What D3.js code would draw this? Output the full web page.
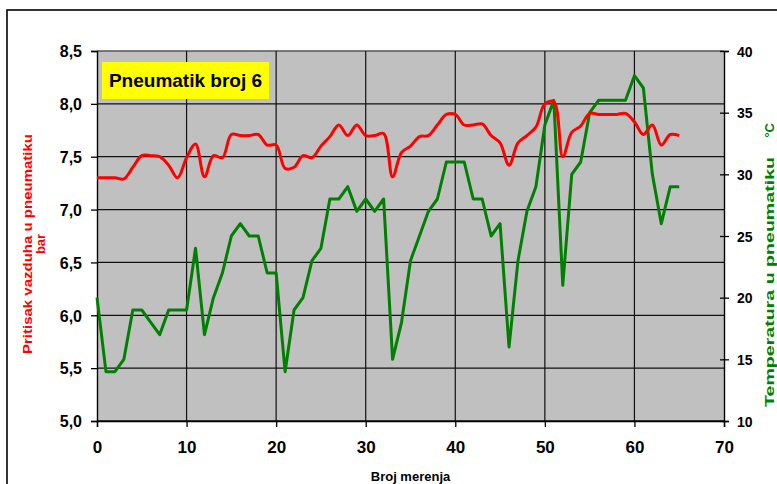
<!DOCTYPE html>
<html>
<head>
<meta charset="utf-8">
<script src="https://cdn.jsdelivr.net/npm/d3@7"></script>
<style>
  body { margin: 0; background: #fff; }
  svg { display: block; font-family: "Liberation Sans", Arial, sans-serif; }
</style>
</head>
<body>
<div id="chart"></div>
<script>
// measurement index 0..65
var pressure = [7.3, 7.3, 7.3, 7.29, 7.4, 7.51, 7.51, 7.5, 7.42, 7.3,
  7.49, 7.62, 7.31, 7.51, 7.49, 7.71, 7.7, 7.7, 7.71, 7.61,
  7.61, 7.39, 7.4, 7.51, 7.49, 7.6, 7.69, 7.8, 7.7, 7.8,
  7.7, 7.7, 7.72, 7.31, 7.54, 7.6, 7.69, 7.7, 7.8, 7.9,
  7.9, 7.8, 7.8, 7.81, 7.7, 7.63, 7.42, 7.63, 7.7, 7.78,
  8.0, 8.02, 7.5, 7.73, 7.79, 7.91, 7.9, 7.9, 7.9, 7.91,
  7.83, 7.71, 7.8, 7.61, 7.71, 7.7];
var temperature = [20, 14, 14, 15, 19, 19, 18, 17, 19, 19,
  19, 24, 17, 20, 22, 25, 26, 25, 25, 22,
  22, 14, 19, 20, 23, 24, 28, 28, 29, 27,
  28, 27, 28, 15, 18, 23, 25, 27, 28, 31,
  31, 31, 28, 28, 25, 26, 16, 23, 27, 29,
  34, 36, 21, 30, 31, 35, 36, 36, 36, 36,
  38, 37, 30, 26, 29, 29];
var xTicks = [0, 10, 20, 30, 40, 50, 60, 70];
var leftTicks = [5.0, 5.5, 6.0, 6.5, 7.0, 7.5, 8.0, 8.5];
var rightTicks = [10, 15, 20, 25, 30, 35, 40];

var width = 777, height = 484;
var plot = { left: 97, right: 724, top: 51, bottom: 421 };

var svg = d3.select("#chart").append("svg")
  .attr("width", width)
  .attr("height", height);

// outer chart frame (runs off the right / bottom edge)
svg.append("rect")
  .attr("x", 7).attr("y", 10)
  .attr("width", 800).attr("height", 500)
  .attr("fill", "#fff")
  .attr("stroke", "#111")
  .attr("stroke-width", 1.7);

var x = d3.scaleLinear().domain([0, 70]).range([plot.left, plot.right]);
var yL = d3.scaleLinear().domain([5, 8.5]).range([plot.bottom, plot.top]);
var yR = d3.scaleLinear().domain([10, 40]).range([plot.bottom, plot.top]);

var comma = function(d) { return d3.format(".1f")(d).replace(".", ","); };

svg.append("rect")
  .attr("x", plot.left).attr("y", plot.top)
  .attr("width", plot.right - plot.left)
  .attr("height", plot.bottom - plot.top)
  .attr("fill", "#c0c0c0");

// grid
svg.append("g").selectAll("line").data(leftTicks).enter().append("line")
  .attr("x1", plot.left).attr("x2", plot.right)
  .attr("y1", function(d) { return yL(d); })
  .attr("y2", function(d) { return yL(d); })
  .attr("stroke", function(d) { return d == 8.5 ? "#555" : "#111"; })
  .attr("stroke-width", 1.3);
svg.append("g").selectAll("line").data(xTicks.slice(1, -1)).enter().append("line")
  .attr("x1", function(d) { return x(d); })
  .attr("x2", function(d) { return x(d); })
  .attr("y1", plot.top).attr("y2", plot.bottom)
  .attr("stroke", "#111")
  .attr("stroke-width", 1.2);

// axes
var gx = svg.append("g")
  .attr("transform", "translate(0," + plot.bottom + ")")
  .call(d3.axisBottom(x).tickValues(xTicks).tickSize(6).tickPadding(14));
var gl = svg.append("g")
  .attr("transform", "translate(" + plot.left + ",0)")
  .call(d3.axisLeft(yL).tickValues(leftTicks).tickSize(6).tickPadding(9).tickFormat(comma));
var gr = svg.append("g")
  .attr("transform", "translate(" + plot.right + ",0)")
  .call(d3.axisRight(yR).tickValues(rightTicks).tickSize(5).tickPadding(8));
gr.selectAll(".tick line").attr("x1", -4);

[gx, gl, gr].forEach(function(g) {
  g.select(".domain").attr("stroke", "#000").attr("stroke-width", 1.4);
  g.selectAll(".tick line").attr("stroke", "#000").attr("stroke-width", 1.3);
  g.selectAll("text")
    .attr("fill", "#000")
    .style("font-weight", "bold");
});
gx.selectAll("text").style("font-size", "17px");
gl.selectAll("text").style("font-size", "16px").attr("dy", "0.36em");
gr.selectAll("text").style("font-size", "14px").attr("dy", "0.36em");

// series
var redLine = d3.line()
  .x(function(d, i) { return x(i); })
  .y(function(d) { return yL(d); })
  .curve(d3.curveCatmullRom.alpha(0.5));
var greenLine = d3.line()
  .x(function(d, i) { return x(i); })
  .y(function(d) { return yR(d); });

svg.append("path")
  .datum(temperature)
  .attr("d", greenLine)
  .attr("fill", "none")
  .attr("stroke", "#008000")
  .attr("stroke-width", 3)
  .attr("stroke-linejoin", "round");
svg.append("path")
  .datum(pressure)
  .attr("d", redLine)
  .attr("fill", "none")
  .attr("stroke", "#ff0000")
  .attr("stroke-width", 3)
  .attr("stroke-linejoin", "round");

// title box
svg.append("rect")
  .attr("x", 102).attr("y", 62)
  .attr("width", 167).attr("height", 37)
  .attr("fill", "#ffff00");
svg.append("text")
  .attr("x", 185.5).attr("y", 87)
  .attr("text-anchor", "middle")
  .style("font-size", "19px")
  .style("font-weight", "bold")
  .text("Pneumatik broj 6");

// axis titles
svg.append("text")
  .attr("x", (plot.left + plot.right) / 2).attr("y", 481)
  .attr("text-anchor", "middle")
  .style("font-size", "13px")
  .style("font-weight", "bold")
  .text("Broj merenja");

var lt = svg.append("text")
  .attr("transform", "translate(32,244) rotate(-90)")
  .attr("text-anchor", "middle")
  .attr("fill", "#ff0000")
  .style("font-size", "13px")
  .style("font-weight", "bold");
lt.append("tspan").attr("x", 0).attr("dy", 0)
  .attr("textLength", 220).attr("lengthAdjust", "spacingAndGlyphs")
  .text("Pritisak vazduha u pneumatiku");
lt.append("tspan").attr("x", 0).attr("dy", 12.5).text("bar");

svg.append("text")
  .attr("transform", "translate(774,407) rotate(-90)")
  .attr("fill", "#008000")
  .attr("textLength", 250).attr("lengthAdjust", "spacingAndGlyphs")
  .style("font-size", "13px")
  .style("font-weight", "bold")
  .text("Temperatura u pneumatiku");
svg.append("text")
  .attr("transform", "translate(774,123) rotate(-90)")
  .attr("text-anchor", "end")
  .attr("fill", "#008000")
  .style("font-size", "13px")
  .style("font-weight", "bold")
  .text("°C");
</script>
</body>
</html>
